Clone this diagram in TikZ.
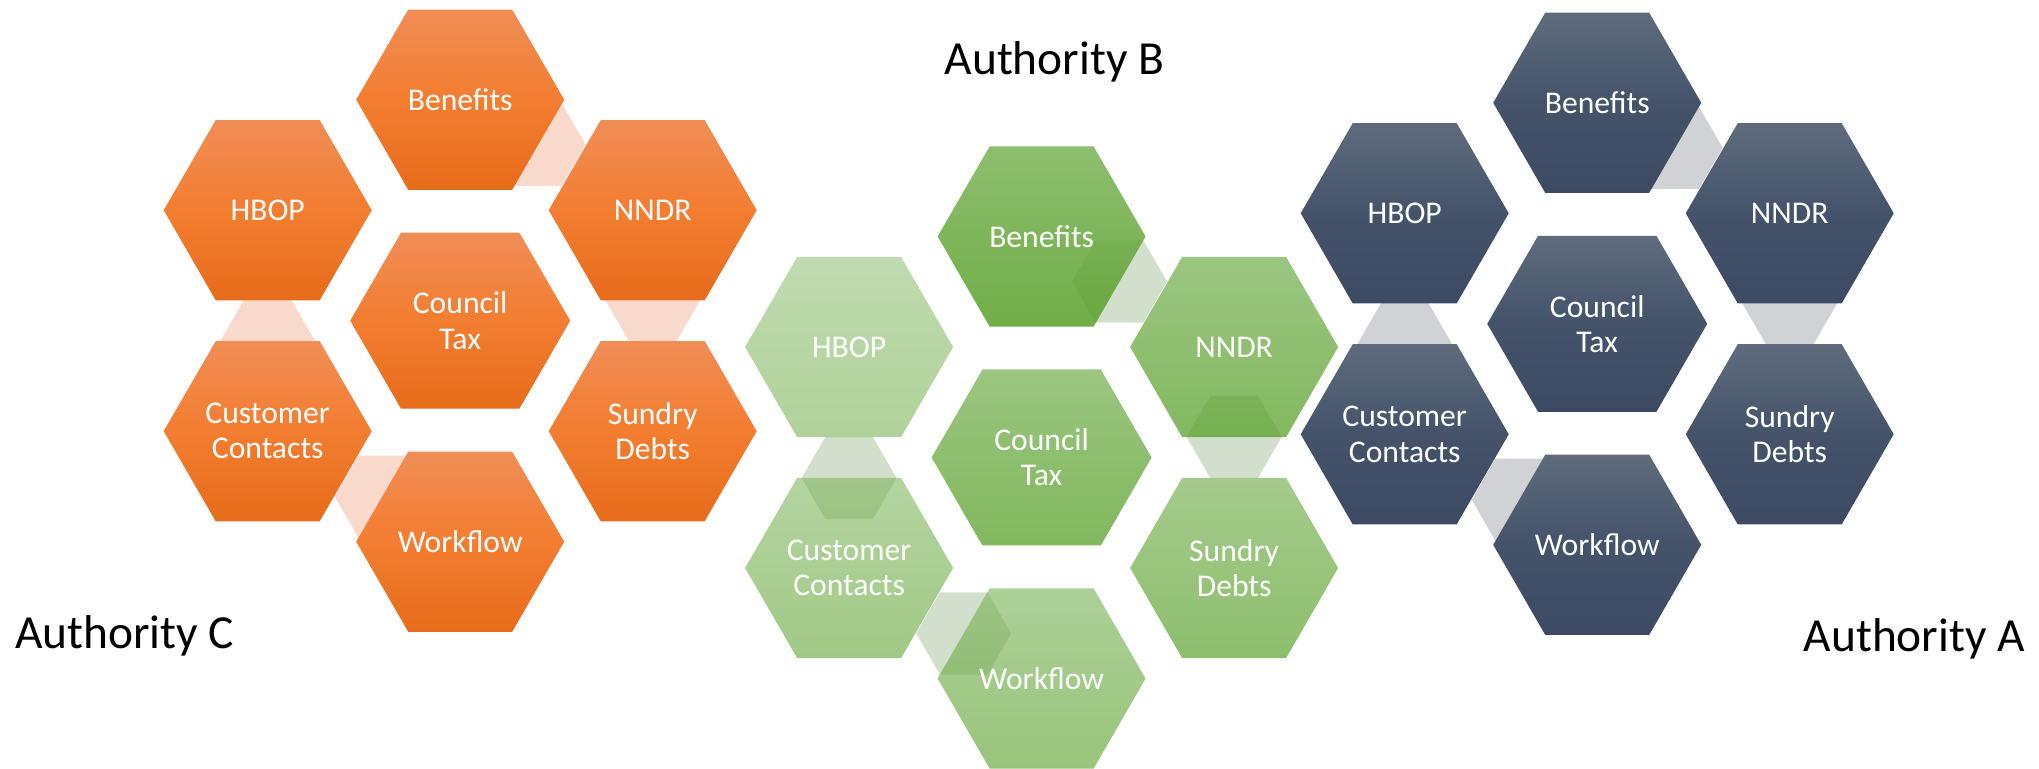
\documentclass[tikz,border=0pt]{standalone}
\usepackage{fontspec}
\setmainfont{Carlito}
\usepackage{tikz}
\usetikzlibrary{shapes.geometric,shapes.symbols,calc,backgrounds}
\definecolor{embertop}{HTML}{F08D56}
\definecolor{embermid}{HTML}{F37D30}
\definecolor{emberbot}{HTML}{E76C1B}
\definecolor{emberlink}{HTML}{F8D9CC}
\definecolor{leaftop}{HTML}{79B256}
\definecolor{leafbot}{HTML}{579F27}
\definecolor{leaflink}{HTML}{5E8A45}
\definecolor{slatetop}{HTML}{5F6B7D}
\definecolor{slatemid}{HTML}{44536A}
\definecolor{slatebot}{HTML}{3C4A63}
\definecolor{slatelink}{HTML}{D0D2D6}

\begin{document}
\begin{tikzpicture}[
    cell/.style={regular polygon,regular polygon sides=6,minimum size=2.08cm,
      inner sep=0pt,outer sep=0pt,align=center,text=white,text opacity=1,
      font=\fontsize{9}{10}\selectfont},
    core/.style={signal,signal to=west and east,signal pointer angle=120,
      minimum width=2.2cm,minimum height=1.76cm,inner sep=0pt,outer sep=0pt,
      align=center,text=white,text opacity=1,font=\fontsize{9}{10}\selectfont},
    link/.style={regular polygon,regular polygon sides=6,minimum size=0.95cm,inner sep=0pt},
    ember/.style={top color=embertop,bottom color=emberbot,middle color=embermid},
    leaf/.style={top color=leaftop,bottom color=leafbot,fill opacity=#1},
    slate/.style={top color=slatetop,bottom color=slatebot,middle color=slatemid},
    ember-link/.style={fill=emberlink},
    leaf-link/.style={fill=leaflink,fill opacity=.27},
    slate-link/.style={fill=slatelink},
    heading/.style={font=\fontsize{13.5}{16}\selectfont,inner sep=0pt,anchor=base west}]
  \useasboundingbox (0,0) rectangle (20.39,7.68);

  % one honeycomb per authority, links sit behind the cells
  \foreach \p/\pos/\tone in {c/{4.602,4.473}/ember,b/{10.416,3.105}/leaf,a/{15.972,4.442}/slate}{
    \begin{scope}[shift={(\pos)}]
      \node[cell,\tone=.85] (\p-ben)  at (0,2.21)        {Benefits};
      \node[cell,\tone=.47] (\p-hbop) at (-1.925,1.105)  {HBOP};
      \node[cell,\tone=.74] (\p-nndr) at (1.925,1.105)   {NNDR};
      \node[core,\tone=.75] (\p-ctax) at (0,0)           {Council\\Tax};
      \node[cell,\tone=.56] (\p-cust) at (-1.925,-1.105) {Customer\\Contacts};
      \node[cell,\tone=.68] (\p-sund) at (1.925,-1.105)  {Sundry\\Debts};
      \node[cell,\tone=.61] (\p-work) at (0,-2.21)       {Workflow};
    \end{scope}
    \begin{scope}[on background layer]
      \node[link,\tone-link] (\p-l1) at ($(\p-ben)+(-30:0.9)$)  {};
      \node[link,\tone-link] (\p-l2) at ($(\p-cust)+(90:0.9)$)  {};
      \node[link,\tone-link] (\p-l3) at ($(\p-nndr)+(-90:0.9)$) {};
      \node[link,\tone-link] (\p-l4) at ($(\p-work)+(150:0.9)$) {};
    \end{scope}
  }

  \node[heading] (authC) at (0.145,1.197) {Authority C};
  \node[heading] (authB) at (9.44,6.93)   {Authority B};
  \node[heading] (authA) at (18.03,1.163) {Authority A};
\end{tikzpicture}
\end{document}
